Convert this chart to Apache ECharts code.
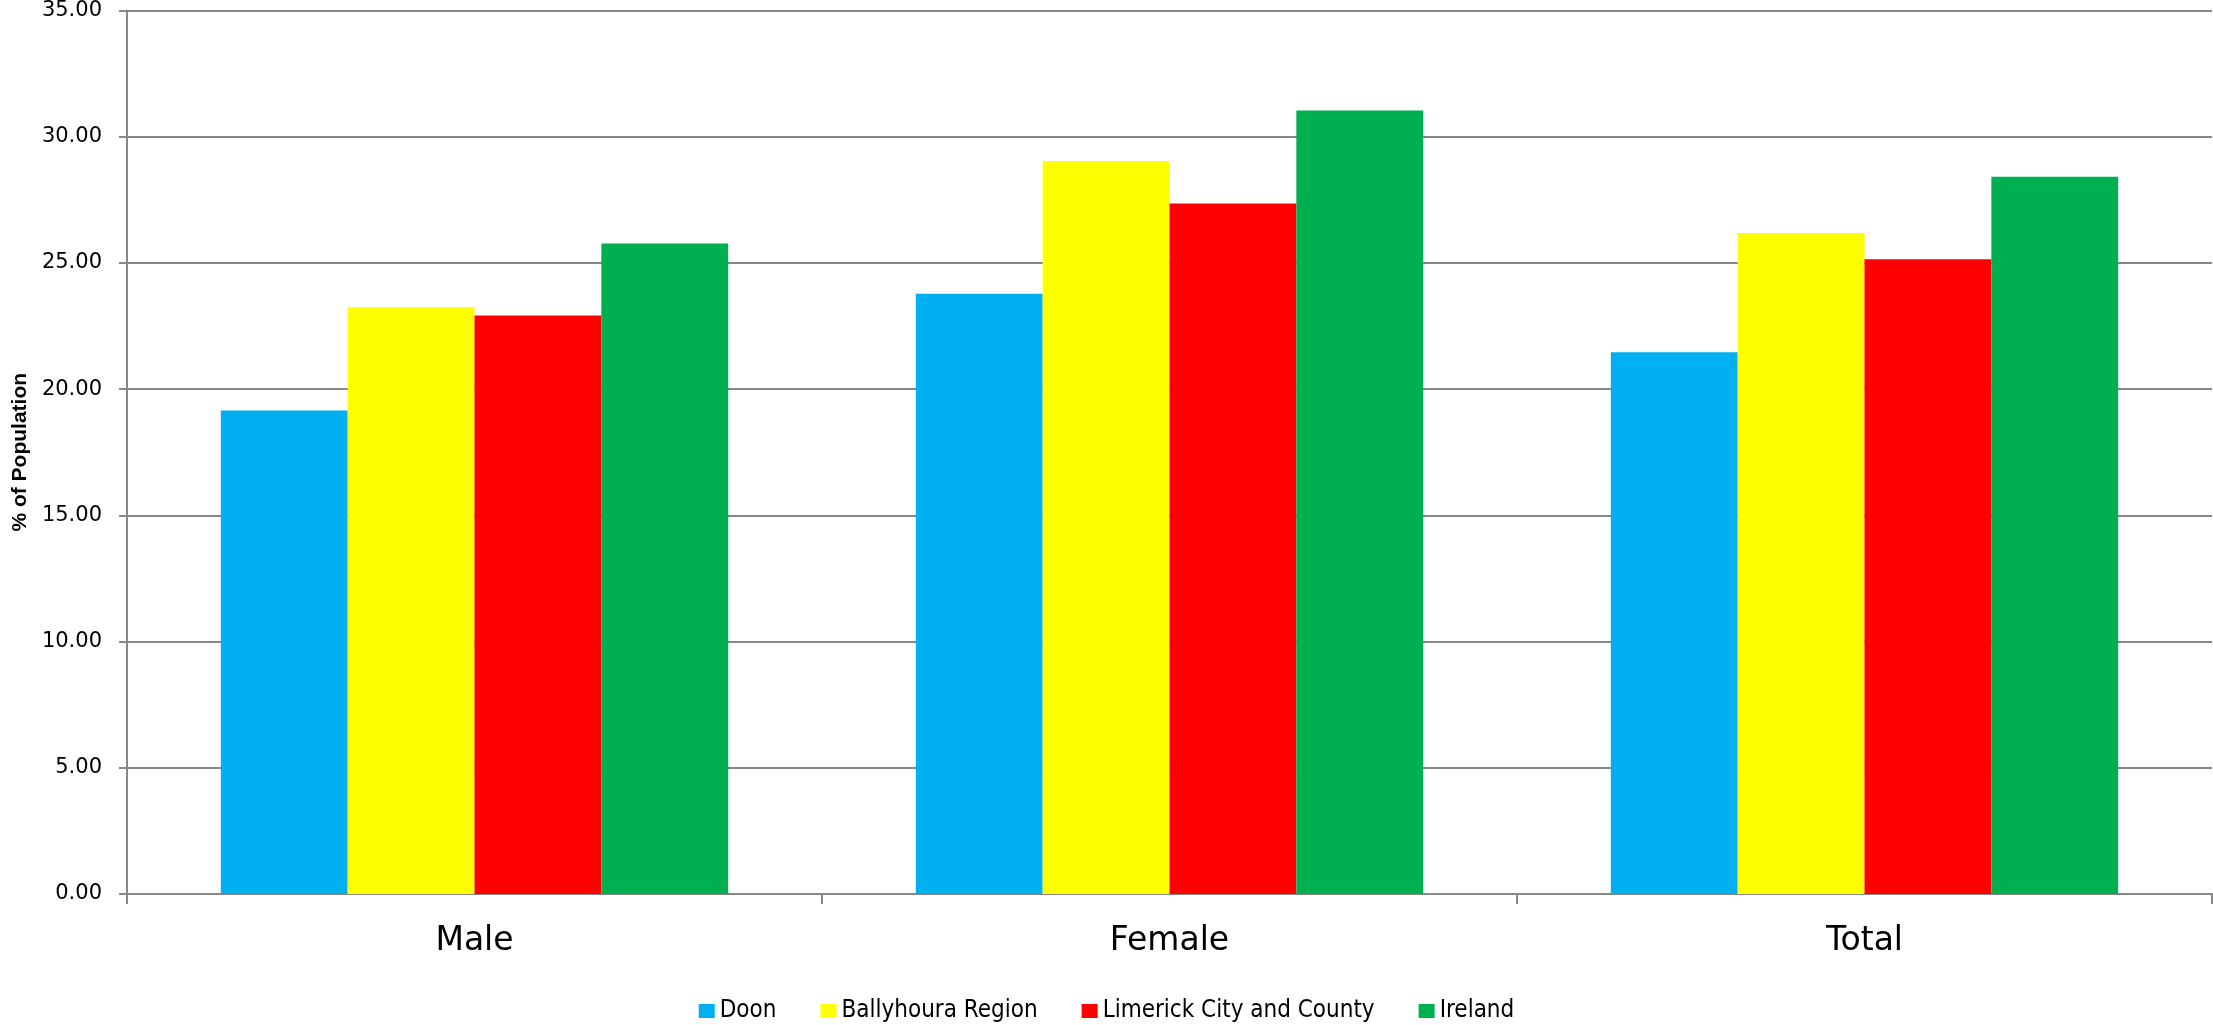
<!DOCTYPE html>
<html>
<head>
<meta charset="utf-8">
<script src="https://cdn.jsdelivr.net/npm/echarts@6/dist/echarts.min.js"></script>
<style>
html,body{margin:0;padding:0;background:#fff;}
#chart{width:2213px;height:1025px;}
</style>
</head>
<body>
<div id="chart"></div>
<script>
const categories = ['Male', 'Female', 'Total'];
const seriesNames = ['Doon', 'Ballyhoura Region', 'Limerick City and County', 'Ireland'];
const doon = [19.15, 23.78, 21.46];
const ballyhoura = [23.24, 29.04, 26.19];
const limerick = [22.92, 27.35, 25.15];
const ireland = [25.77, 31.04, 28.41];
const colors = ['#00B0F0', '#FFFF00', '#FF0000', '#00B050'];
const yTicks = { min: 0, max: 35, interval: 5 };

const values = [doon, ballyhoura, limerick, ireland];
const chart = echarts.init(document.getElementById('chart'));
const axisGray = '#878787';
chart.setOption({
  animation: false,
  backgroundColor: '#ffffff',
  grid: { left: 127, right: 1, top: 8, bottom: 131, containLabel: false },
  legend: {
    top: 994,
    left: 'center',
    itemWidth: 16,
    itemHeight: 14,
    itemGap: 44,
    icon: 'rect',
    textStyle: { fontFamily: "'Liberation Sans Narrow', 'DejaVu Sans Condensed', 'Liberation Sans', sans-serif", fontSize: 24, color: '#000' },
    data: seriesNames
  },
  xAxis: {
    type: 'category',
    data: categories,
    axisLine: { show: true, lineStyle: { color: axisGray, width: 2 } },
    axisTick: { show: true, length: 10, lineStyle: { color: axisGray, width: 2 } },
    axisLabel: { fontFamily: 'DejaVu Sans', fontSize: 33, color: '#000', margin: 31 },
    splitLine: { show: false }
  },
  yAxis: {
    type: 'value',
    min: yTicks.min,
    max: yTicks.max,
    interval: yTicks.interval,
    name: '% of Population',
    nameLocation: 'middle',
    nameGap: 96,
    nameMoveOverlap: false,
    nameTextStyle: { fontFamily: 'Liberation Sans', fontWeight: 'bold', fontSize: 21, color: '#000' },
    axisLine: { show: true, lineStyle: { color: axisGray, width: 2 } },
    axisTick: { show: true, length: 8, lineStyle: { color: axisGray, width: 2 } },
    axisLabel: { fontFamily: 'DejaVu Sans', fontSize: 21, color: '#000', margin: 25, formatter: v => v.toFixed(2) },
    splitLine: { show: true, lineStyle: { color: axisGray, width: 2 } }
  },
  series: seriesNames.map((name, i) => ({
    name: name,
    type: 'bar',
    data: values[i],
    itemStyle: { color: colors[i] },
    barGap: '0%',
    barCategoryGap: '27%'
  }))
});
</script>
</body>
</html>
